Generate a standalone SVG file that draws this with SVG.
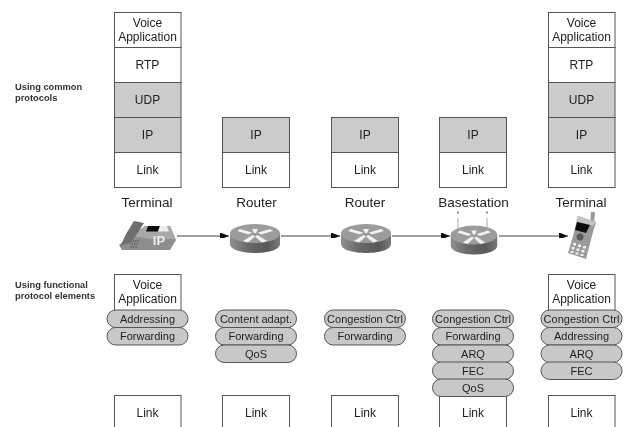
<svg xmlns="http://www.w3.org/2000/svg" width="626" height="427" viewBox="0 0 626 427">
<style>
svg>g,svg>use{filter:url(#b)}
text{font-family:"Liberation Sans",Arial,sans-serif;fill:#222;text-anchor:middle}
.t{font-size:12px}
.h{font-size:13.500px}
.p{font-size:11px}
.n{font-size:9.300px;font-weight:bold;text-anchor:start;fill:#333}
.w{fill:#fff;stroke:#555;stroke-width:1}
.g{fill:#cbcbcb;stroke:#555;stroke-width:1}
.pill{fill:#c8c8c8;stroke:#555;stroke-width:1}
.c{stroke:#444;stroke-width:1;fill:none;marker-end:url(#a)}
</style>
<defs>
<filter id="b" x="-5%" y="-5%" width="110%" height="110%"><feGaussianBlur stdDeviation="0.35"/></filter>
<marker id="a" viewBox="0 0 9 7" refX="9" refY="3.500" markerWidth="9" markerHeight="7" markerUnits="userSpaceOnUse" orient="auto"><path d="M0 0L9 3.500L0 7Z" fill="#111"/></marker>
<linearGradient id="r" x1="0" x2="1" y1="0" y2="0"><stop offset="0" stop-color="#909090"/><stop offset=".35" stop-color="#6a6a6a"/><stop offset=".75" stop-color="#585858"/><stop offset="1" stop-color="#7a7a7a"/></linearGradient>
<g id="router">
<path d="M-25 -5V6C-25 12 -12 15 0 15S25 12 25 6V-5Z" fill="url(#r)"/>
<ellipse cx="0" cy="-4.500" rx="25" ry="9.500" fill="#9c9c9c"/>
<path d="M-15 -9L-3 -5.500L-6 -3.500L-18 -7ZM15 -9L3 -5.500L6 -3.500L18 -7ZM-12 3L-2.500 -3L0 -1.500L-7 4.500ZM12 3L2.500 -3L0 -1.500L7 4.500ZM-3 -9L3 -9L1 -5L-1 -5Z" fill="#f2f2f2"/>
</g>
</defs>

<g id="labels">
<text class="n" x="15" y="90">Using common</text>
<text class="n" x="15" y="100.500">protocols</text>
<text class="n" x="15" y="288">Using functional</text>
<text class="n" x="15" y="299">protocol elements</text>
</g>

<g id="stack-terminal-left">
<rect class="w" x="114.500" y="12.500" width="66.500" height="35"/>
<rect class="w" x="114.500" y="47.500" width="66.500" height="35"/>
<rect class="g" x="114.500" y="82.500" width="66.500" height="35"/>
<rect class="g" x="114.500" y="117.500" width="66.500" height="35"/>
<rect class="w" x="114.500" y="152.500" width="66.500" height="35"/>
<text class="t" x="147.500" y="27">Voice</text><text class="t" x="147.500" y="41">Application</text>
<text class="t" x="147.500" y="69">RTP</text><text class="t" x="147.500" y="104">UDP</text><text class="t" x="147.500" y="139">IP</text><text class="t" x="147.500" y="174">Link</text>
<text class="h" x="147" y="207">Terminal</text>
</g>
<g id="stack-router-1">
<rect class="g" x="222.500" y="117.500" width="67" height="35"/><rect class="w" x="222.500" y="152.500" width="67" height="35"/>
<text class="t" x="256" y="139">IP</text><text class="t" x="256" y="174">Link</text>
<text class="h" x="256.500" y="207">Router</text>
</g>
<g id="stack-router-2">
<rect class="g" x="331.500" y="117.500" width="67" height="35"/><rect class="w" x="331.500" y="152.500" width="67" height="35"/>
<text class="t" x="365" y="139">IP</text><text class="t" x="365" y="174">Link</text>
<text class="h" x="365" y="207">Router</text>
</g>
<g id="stack-basestation">
<rect class="g" x="439.500" y="117.500" width="67" height="35"/><rect class="w" x="439.500" y="152.500" width="67" height="35"/>
<text class="t" x="473" y="139">IP</text><text class="t" x="473" y="174">Link</text>
<text class="h" x="473.500" y="207">Basestation</text>
</g>
<g id="stack-terminal-right">
<rect class="w" x="548.500" y="12.500" width="66.500" height="35"/>
<rect class="w" x="548.500" y="47.500" width="66.500" height="35"/>
<rect class="g" x="548.500" y="82.500" width="66.500" height="35"/>
<rect class="g" x="548.500" y="117.500" width="66.500" height="35"/>
<rect class="w" x="548.500" y="152.500" width="66.500" height="35"/>
<text class="t" x="581.500" y="27">Voice</text><text class="t" x="581.500" y="41">Application</text>
<text class="t" x="581.500" y="69">RTP</text><text class="t" x="581.500" y="104">UDP</text><text class="t" x="581.500" y="139">IP</text><text class="t" x="581.500" y="174">Link</text>
<text class="h" x="581" y="207">Terminal</text>
</g>

<g id="connectors">
<path class="c" d="M177 236H229"/>
<path class="c" d="M281 236H340"/>
<path class="c" d="M392 236H450"/>
<path class="c" d="M499 236H568"/>
<path d="M458 228V218M487 228V218" stroke="#aaa" fill="none"/>
<path d="M458 211.500V213.500M487 211.500V213.500" stroke="#222" fill="none"/>
</g>

<g id="phone">
<path d="M145 226L170 226L176 240L170 250L122 250L119 245L131 236Z" fill="#8e8e8e"/>
<path d="M145 226L170 226L175 239L150 239L133 236Z" fill="#a8a8a8"/>
<path d="M134 221L144 223L131 243L124 244L120 247L126 234Z" fill="#6e6e6e"/>
<path d="M148 226H160L158 231.500H146Z" fill="#111"/>
<path d="M160 226H167L169 231.500H158Z" fill="#eee"/>
<path d="M139 241l-6 0M138 244l-7 0M137 247l-7 0" stroke="#444" stroke-dasharray="1.500 1"/>
<text x="159" y="245" style="font-size:13px;font-weight:bold;fill:#eee">IP</text>
</g>
<use id="router-1" href="#router" x="255" y="238"/>
<use id="router-2" href="#router" x="366" y="238"/>
<use id="basestation" href="#router" transform="translate(474 239.500) scale(.93 1)"/>
<g id="cellphone">
<path d="M591 212L595 212L594 224L590 224Z" fill="#999"/>
<path d="M578 216L596 222L593 232L586 259L568 253L573 236Z" fill="#9a9a9a"/>
<path d="M578 216L596 222L593 226L576 221Z" fill="#c4c4c4"/>
<path d="M577 222L590 225L586 233L575 230Z" fill="#111"/>
<circle cx="580" cy="237" r="3.500" fill="#5a5a5a"/>
<g fill="#f0f0f0">
<rect x="573" y="243" width="3" height="2.500"/><rect x="578" y="244.500" width="3" height="2.500"/><rect x="583" y="246" width="3" height="2.500"/>
<rect x="571.500" y="247" width="3" height="2.500"/><rect x="576.500" y="248.500" width="3" height="2.500"/><rect x="581.500" y="250" width="3" height="2.500"/>
<rect x="570.500" y="251" width="3" height="2"/><rect x="575.500" y="252.500" width="3" height="2"/><rect x="580.500" y="254" width="3" height="2"/>
</g>
</g>

<g id="functional-terminal-left">
<rect class="w" x="114.500" y="274.500" width="66.500" height="36"/>
<text class="t" x="147.500" y="289">Voice</text><text class="t" x="147.500" y="303">Application</text>
<rect class="pill" x="107" y="310" width="81" height="17.500" rx="8.700"/><rect class="pill" x="107" y="327.500" width="81" height="17.500" rx="8.700"/>
<text class="p" x="147.500" y="322.500">Addressing</text><text class="p" x="147.500" y="340">Forwarding</text>
<rect class="w" x="114.500" y="395.500" width="66.500" height="40"/><text class="t" x="147.500" y="417">Link</text>
</g>
<g id="functional-router-1">
<rect class="pill" x="215.500" y="310" width="81" height="17.500" rx="8.700"/><rect class="pill" x="215.500" y="327.500" width="81" height="17.500" rx="8.700"/><rect class="pill" x="215.500" y="345" width="81" height="17.500" rx="8.700"/>
<text class="p" x="256" y="322.500">Content adapt.</text><text class="p" x="256" y="340">Forwarding</text><text class="p" x="256" y="357.500">QoS</text>
<rect class="w" x="222.500" y="395.500" width="67" height="40"/><text class="t" x="256" y="417">Link</text>
</g>
<g id="functional-router-2">
<rect class="pill" x="324.500" y="310" width="81" height="17.500" rx="8.700"/><rect class="pill" x="324.500" y="327.500" width="81" height="17.500" rx="8.700"/>
<text class="p" x="365" y="322.500">Congestion Ctrl</text><text class="p" x="365" y="340">Forwarding</text>
<rect class="w" x="331.500" y="395.500" width="67" height="40"/><text class="t" x="365" y="417">Link</text>
</g>
<g id="functional-basestation">
<rect class="w" x="439.500" y="395.500" width="67" height="40"/><text class="t" x="473" y="417">Link</text>
<rect class="pill" x="432.500" y="310" width="81" height="17.500" rx="8.700"/><rect class="pill" x="432.500" y="327.500" width="81" height="17.500" rx="8.700"/><rect class="pill" x="432.500" y="345" width="81" height="17.500" rx="8.700"/><rect class="pill" x="432.500" y="362" width="81" height="17.500" rx="8.700"/><rect class="pill" x="432.500" y="379" width="81" height="17.500" rx="8.700"/>
<text class="p" x="473" y="322.500">Congestion Ctrl</text><text class="p" x="473" y="340">Forwarding</text><text class="p" x="473" y="357.500">ARQ</text><text class="p" x="473" y="374.500">FEC</text><text class="p" x="473" y="391.500">QoS</text>
</g>
<g id="functional-terminal-right">
<rect class="w" x="548.500" y="274.500" width="66.500" height="36"/>
<text class="t" x="581.500" y="289">Voice</text><text class="t" x="581.500" y="303">Application</text>
<rect class="pill" x="541" y="310" width="81" height="17.500" rx="8.700"/><rect class="pill" x="541" y="327.500" width="81" height="17.500" rx="8.700"/><rect class="pill" x="541" y="345" width="81" height="17.500" rx="8.700"/><rect class="pill" x="541" y="362" width="81" height="17.500" rx="8.700"/>
<text class="p" x="581.500" y="322.500">Congestion Ctrl</text><text class="p" x="581.500" y="340">Addressing</text><text class="p" x="581.500" y="357.500">ARQ</text><text class="p" x="581.500" y="374.500">FEC</text>
<rect class="w" x="548.500" y="395.500" width="66.500" height="40"/><text class="t" x="581.500" y="417">Link</text>
</g>
</svg>
